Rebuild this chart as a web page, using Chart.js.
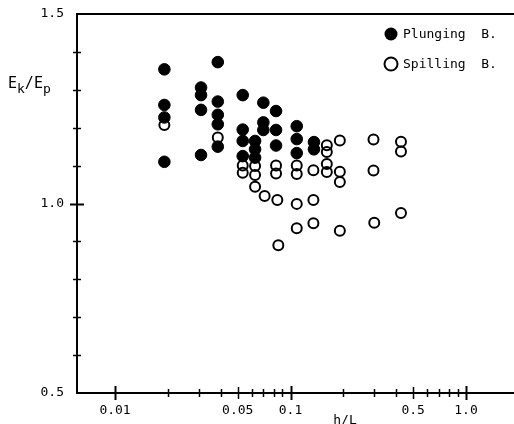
<!DOCTYPE html>
<html><head><meta charset="utf-8">
<script src="https://cdn.jsdelivr.net/npm/chart.js@4"></script>
<style>html,body{margin:0;padding:0;background:#fff;overflow:hidden}canvas{display:block}</style>
</head><body>
<canvas id="c" width="514" height="424"></canvas>
<script>
// ---- data ----
const plungingH = [0.0191,0.0191,0.0191,0.0191, 0.0309,0.0309,0.0309,0.0309, 0.0385,0.0385,0.0385,0.0385,0.0385, 0.0534,0.0534,0.0534,0.0534, 0.0628,0.0628,0.0628, 0.070,0.070,0.070, 0.0827,0.0827,0.0827, 0.1085,0.1085,0.1085, 0.136,0.136];
const plungingE = [1.354,1.260,1.227,1.110, 1.306,1.286,1.247,1.128, 1.373,1.269,1.234,1.209,1.150, 1.286,1.195,1.165,1.125, 1.165,1.143,1.121, 1.266,1.214,1.194, 1.244,1.194,1.153, 1.204,1.170,1.133, 1.162,1.143];
const spillingH = [0.0191, 0.0385, 0.0534,0.0534, 0.0628,0.0628,0.0628, 0.0712, 0.0827,0.0827, 0.0841, 0.0852, 0.1085,0.1085,0.1085,0.1085, 0.135,0.135,0.135, 0.161,0.161,0.161,0.161, 0.191,0.191,0.191,0.191, 0.297,0.297,0.30, 0.426,0.426,0.426];
const spillingE = [1.207, 1.174, 1.100,1.081, 1.099,1.075,1.044, 1.020, 1.100,1.079, 1.009, 0.890, 1.100,1.078,0.999,0.935, 1.088,1.009,0.948, 1.154,1.136,1.104,1.083, 1.166,1.084,1.057,0.928, 1.169,1.087,0.949, 1.163,1.137,0.975];

const seriesNames = ["Plunging  B.", "Spilling  B."];
const xTickValues = [0.01,0.02,0.03,0.04,0.05,0.06,0.07,0.08,0.09,0.1,0.2,0.3,0.4,0.5,0.6,0.7,0.8,0.9,1.0];
const xTickLabels = ["0.01","","","","0.05","","","","","0.1","","","","0.5","","","","","1.0"];
const xMajorTicks = [0.01,0.1,1.0];
const xMediumTicks = [0.05,0.5];
const yTickValues = [0.5,0.6,0.7,0.8,0.9,1.0,1.1,1.2,1.3,1.4,1.5];
const yTickLabels = ["0.5","","","","","1.0","","","","","1.5"];
const yMajorTicks = [1.0];
const xTitle = "h/L";

const FONT = '"DejaVu Sans Mono", "Liberation Mono", monospace';

function pts(xs, ys){ return xs.map((x,i)=>({x:x, y:ys[i]})); }

const decorPlugin = {
  id: 'decor',
  afterDraw(chart){
    const ctx = chart.ctx, ca = chart.chartArea;
    const xs = chart.scales.x, ys = chart.scales.y;
    ctx.save();
    ctx.strokeStyle = '#000';
    // top frame line
    ctx.lineWidth = 2;
    ctx.beginPath(); ctx.moveTo(ca.left-1, ca.top); ctx.lineTo(ca.right, ca.top); ctx.stroke();
    // x tick marks crossing the axis
    xTickValues.forEach(v=>{
      const px = Math.round(xs.getPixelForValue(v)) + 0.5;
      let h = 4, w = 1.5;
      if (xMajorTicks.some(m=>Math.abs(m-v)<1e-9)) { h = 7; w = 2; }
      else if (xMediumTicks.some(m=>Math.abs(m-v)<1e-9)) { h = 6; w = 1.5; }
      ctx.lineWidth = w;
      ctx.beginPath(); ctx.moveTo(px, ca.bottom-h); ctx.lineTo(px, ca.bottom+h); ctx.stroke();
    });
    // y tick marks
    yTickValues.forEach(v=>{
      if (Math.abs(v-0.5)<1e-9 || Math.abs(v-1.5)<1e-9) return;
      const py = Math.round(ys.getPixelForValue(v)) + 0.5;
      let h = 4, w = 1.5;
      if (yMajorTicks.some(m=>Math.abs(m-v)<1e-9)) { h = 7; w = 2; }
      ctx.lineWidth = w;
      ctx.beginPath(); ctx.moveTo(ca.left-h, py); ctx.lineTo(ca.left+h, py); ctx.stroke();
    });
    // y title E_k/E_p
    ctx.fillStyle = '#000';
    ctx.textBaseline = 'alphabetic';
    ctx.textAlign = 'left';
    const big = '15px ' + FONT, small = '13px ' + FONT;
    let x = 8; const base = 88;
    const parts = [['E',big,0],['k',small,5],['/',big,0],['E',big,0],['p',small,5]];
    parts.forEach(p=>{ ctx.font = p[1]; ctx.fillText(p[0], x, base + p[2]); x += ctx.measureText(p[0]).width; });
    // x title
    ctx.font = '13px ' + FONT;
    ctx.textAlign = 'center';
    ctx.textBaseline = 'top';
    ctx.fillText(xTitle, 345, 414);
    // legend
    const ds = chart.data.datasets;
    const lx = 391, ly = [34, 64];
    ds.forEach((d,i)=>{
      ctx.beginPath();
      ctx.arc(lx, ly[i], 6.5, 0, Math.PI*2);
      if (i===0){ ctx.fillStyle='#000'; ctx.fill(); }
      else { ctx.lineWidth = 2; ctx.strokeStyle='#000'; ctx.stroke(); }
      ctx.fillStyle = '#000';
      ctx.font = '13px ' + FONT;
      ctx.textAlign = 'left';
      ctx.textBaseline = 'middle';
      ctx.fillText(d.label, 403, ly[i]+1);
    });
    ctx.restore();
  }
};

new Chart(document.getElementById('c'), {
  type: 'scatter',
  data: {
    datasets: [
      { label: seriesNames[0], data: pts(plungingH, plungingE),
        pointRadius: 5.8, pointBackgroundColor: '#000', pointBorderColor: '#000', pointBorderWidth: 1 },
      { label: seriesNames[1], data: pts(spillingH, spillingE),
        pointRadius: 5, pointBackgroundColor: 'rgba(0,0,0,0)', pointBorderColor: '#000', pointBorderWidth: 2 }
    ]
  },
  options: {
    responsive: false,
    animation: false,
    layout: { autoPadding: false, padding: { left: 0, right: 0, top: 14, bottom: 0 } },
    plugins: { legend: { display: false }, tooltip: { enabled: false } },
    scales: {
      x: {
        type: 'logarithmic', position: 'bottom',
        min: 0.00607, max: 1.877,
        afterBuildTicks: s => { s.ticks = xTickValues.map(v=>({value:v})); },
        afterFit: s => { s.height = 31; s.paddingLeft = 0; s.paddingRight = 0; },
        grid: { display: false, drawTicks: false },
        border: { display: true, color: '#000', width: 2 },
        ticks: { autoSkip: false, maxRotation: 0, minRotation: 0, padding: 10, color: '#000',
          font: { family: FONT, size: 13 },
          callback: (v, i) => xTickLabels[i] }
      },
      y: {
        type: 'linear', position: 'left',
        min: 0.5, max: 1.5,
        afterBuildTicks: s => { s.ticks = yTickValues.map(v=>({value:v})); },
        afterFit: s => { s.width = 77; s.paddingTop = 0; s.paddingBottom = 0; },
        grid: { display: false, drawTicks: false },
        border: { display: true, color: '#000', width: 2 },
        ticks: { autoSkip: false, padding: 13, color: '#000',
          font: { family: FONT, size: 13 },
          callback: (v, i) => yTickLabels[i] }
      }
    }
  },
  plugins: [decorPlugin]
});
</script>
</body></html>
